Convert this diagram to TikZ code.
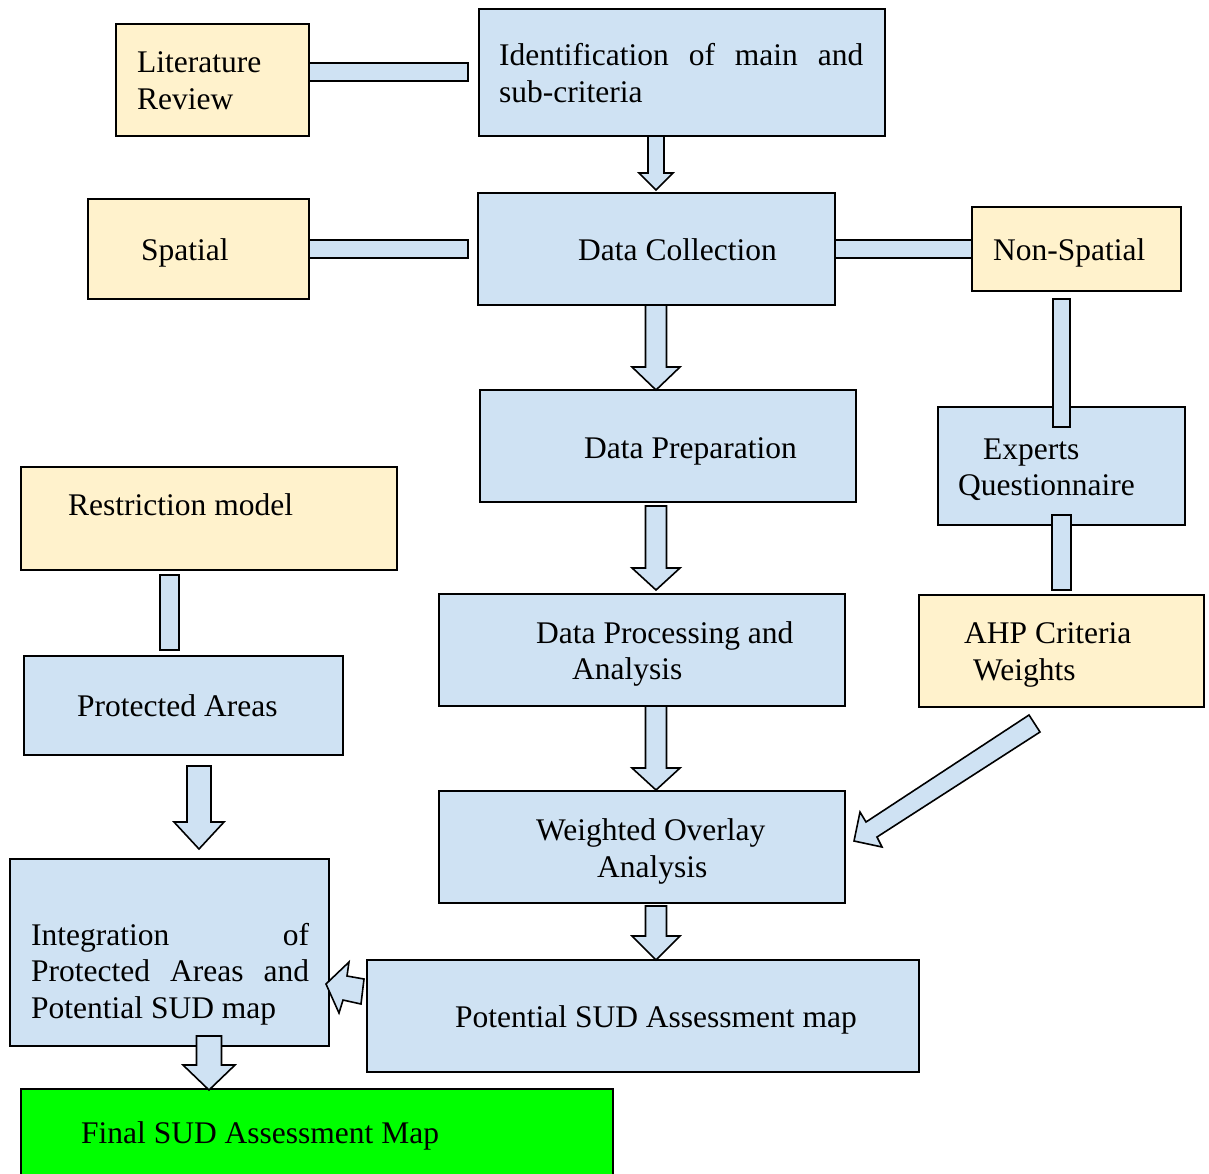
\documentclass[tikz,border=0pt]{standalone}
\usepackage{fontspec}
\setmainfont{Liberation Serif}
\definecolor{bluebox}{HTML}{CFE2F3}
\definecolor{yellowbox}{HTML}{FFF2CC}
\definecolor{greenbox}{HTML}{00FF00}
\tikzset{
  boxline/.style={line width=1.6pt, draw=black},
  bluerect/.style={boxline, fill=bluebox},
  yellowrect/.style={boxline, fill=yellowbox},
  greenrect/.style={boxline, fill=greenbox},
  txt/.style={anchor=base west, inner sep=0pt, font=\fontsize{31.5}{37}\selectfont},
  barrow/.style={line width=1.6pt, draw=black, fill=bluebox, line join=miter},
}
% vertical block arrow: xc, ytop, yhead, ytip, shaft half width, head half width
\newcommand\vblock[6]{%
  \draw[barrow] (#1-#5,#2) -- (#1+#5,#2) -- (#1+#5,#3) -- (#1+#6,#3) -- (#1,#4)
    -- (#1-#6,#3) -- (#1-#5,#3) -- cycle;}
\begin{document}
\begin{tikzpicture}[x=1pt,y=-1pt]
\useasboundingbox (0,0) rectangle (1209,1173);
\clip (0,0) rectangle (1209,1173);

% boxes
\draw[yellowrect] (116,24) rectangle (309,136) node[pos=0.5] (lit) {};
\draw[bluerect] (479,9) rectangle (885,136) node[pos=0.5] (ident) {};
\draw[yellowrect] (88,199) rectangle (309,299) node[pos=0.5] (spat) {};
\draw[bluerect] (478,193) rectangle (835,305) node[pos=0.5] (dcol) {};
\draw[yellowrect] (972,207) rectangle (1181,291) node[pos=0.5] (nonsp) {};
\draw[bluerect] (938,407) rectangle (1185,525) node[pos=0.5] (expq) {};
\draw[yellowrect] (919,595) rectangle (1204,707) node[pos=0.5] (ahp) {};
\draw[bluerect] (480,390) rectangle (856,502) node[pos=0.5] (dprep) {};
\draw[bluerect] (439,594) rectangle (845,706) node[pos=0.5] (dproc) {};
\draw[bluerect] (439,791) rectangle (845,903) node[pos=0.5] (wover) {};
\draw[bluerect] (367,960) rectangle (919,1072) node[pos=0.5] (potsud) {};
\draw[yellowrect] (21,467) rectangle (397,570) node[pos=0.5] (restr) {};
\draw[bluerect] (24,656) rectangle (343,755) node[pos=0.5] (prot) {};
\draw[bluerect] (10,859) rectangle (329,1046) node[pos=0.5] (integ) {};
\draw[greenrect] (21,1089) rectangle (613,1210) node[pos=0.5] (final) {};

% texts
\node[txt] (t1) at (137,72) {Literature};
\node[txt] (t2) at (137,109) {Review};
\node[txt, text width=364pt, align=left] (t3) at (499,65) {Identification\hfill of\hfill main\hfill and};
\node[txt] (t4) at (499,102) {sub-criteria};
\node[txt] (t5) at (141,260) {Spatial};
\node[txt] (t6) at (578,260) {Data Collection};
\node[txt] (t7) at (993,260) {Non-Spatial};
\node[txt] (t8) at (983,459) {Experts};
\node[txt] (t9) at (958,495) {Questionnaire};
\node[txt] (t10) at (964,643) {AHP Criteria};
\node[txt] (t11) at (973,680) {Weights};
\node[txt] (t12) at (68,515) {Restriction model};
\node[txt] (t13) at (584,458) {Data Preparation};
\node[txt] (t14) at (536,643) {Data Processing and};
\node[txt] (t15) at (572,679) {Analysis};
\node[txt] (t16) at (77,716) {Protected Areas};
\node[txt] (t17) at (536,840) {Weighted Overlay};
\node[txt] (t18) at (597,877) {Analysis};
\node[txt, text width=278pt, align=left] (t19) at (31,945) {Integration\hfill of};
\node[txt, text width=278pt, align=left] (t20) at (31,981) {Protected\hfill Areas\hfill and};
\node[txt] (t21) at (31,1018) {Potential SUD map};
\node[txt] (t22) at (455,1027) {Potential SUD Assessment map};
\node[txt] (t23) at (81,1143) {Final SUD Assessment Map};

% bar connectors
\draw[bluerect] (309,63) rectangle (468,81);
\draw[bluerect] (309,240) rectangle (468,258);
\draw[bluerect] (835,240) rectangle (972,258);
\draw[bluerect] (1053,299) rectangle (1070,427);
\draw[bluerect] (1052,515) rectangle (1071,590);
\draw[bluerect] (160,575) rectangle (179,650);

% block arrows
\vblock{656}{136}{173}{190}{8}{17}
\vblock{656}{305}{367}{390}{10.5}{24}
\vblock{656}{506}{568}{590}{10.5}{24}
\vblock{656}{706}{768}{790}{10.5}{24}
\vblock{656}{906}{936}{960}{10.5}{24}
\vblock{199}{766}{822}{849}{12}{25}
\vblock{209}{1036}{1065}{1090}{12.5}{26}

% diagonal arrow AHP -> weighted overlay
\draw[barrow] (1029,715) -- (866,822) -- (860,812) -- (854,841) -- (882,847)
  -- (877,837) -- (1040,732) -- cycle;
% left arrow potential -> integration
\draw[barrow] (326,984) -- (349,962) -- (347,976) -- (364,979) -- (361,1004)
  -- (343,1000) -- (339,1013) -- cycle;
\end{tikzpicture}
\end{document}
